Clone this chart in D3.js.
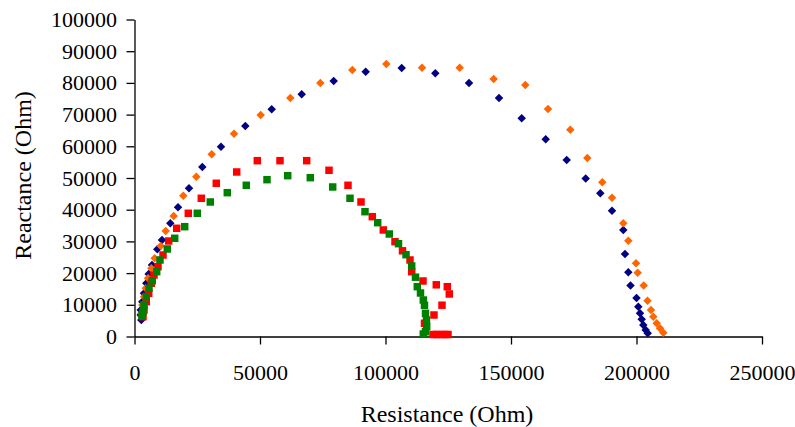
<!DOCTYPE html>
<html>
<head>
<meta charset="utf-8">
<script src="https://cdn.jsdelivr.net/npm/d3@7"></script>
<style>
	body { margin: 0; background: #fff; }
	text { font-family: "Liberation Serif", "Times New Roman", serif; fill: #000; }
</style>
</head>
<body>
<div id="chart"></div>
<script>
// Nyquist plot, four samples
// each series: resistance (x), reactance (y)
var navyX = [2709, 2470, 2470, 3108, 3785, 4701, 5657, 6972, 9084, 10956, 14263, 17330, 21713, 27011, 34462, 44143, 54661, 66613, 79361, 92110, 106452, 119839, 133265, 145217, 154261, 163822, 172189, 179759, 185575, 190237, 194739, 195416, 196731, 197607, 199997, 200715, 201392, 202069, 202706, 203662, 204459];
var navyY = [5206, 6783, 8361, 10979, 13630, 16784, 19719, 22558, 27512, 30446, 35715, 40763, 46757, 53477, 59882, 66413, 71682, 76414, 80610, 83544, 84712, 83040, 79979, 75247, 68842, 62216, 55686, 49849, 45180, 39689, 33601, 26029, 20255, 16090, 12147, 9402, 7320, 5427, 3628, 2051, 1010];

var orangeX = [2709, 3108, 3785, 4462, 5378, 6693, 8048, 10438, 12430, 15617, 19442, 24621, 30756, 39641, 50279, 62071, 74023, 86772, 100317, 114540, 129560, 143105, 155695, 164738, 173623, 180395, 186371, 190236, 194739, 196730, 199798, 200475, 202866, 204379, 205776, 206692, 208047, 209362, 210677];
var orangeY = [7320, 9938, 12557, 15207, 18362, 21517, 24672, 28553, 33285, 38018, 44421, 50417, 57483, 63983, 69883, 75247, 79979, 84080, 85973, 84807, 84807, 81241, 79348, 71776, 65245, 56318, 48650, 43791, 35714, 30224, 23095, 20129, 16090, 11295, 8361, 6247, 4165, 2587, 1199];

var redX = [3386, 3785, 4701, 5657, 6693, 7769, 9362, 11354, 13625, 16812, 21434, 26613, 32589, 40717, 48924, 57967, 68604, 77489, 85058, 90238, 94740, 99122, 103784, 106772, 109760, 110437, 114938, 120237, 124620, 125416, 122508, 119321, 115536, 118922, 120516, 122109, 123703, 124898];
var redY = [6247, 8361, 10979, 13630, 16784, 19403, 22022, 25713, 30130, 34137, 38869, 43601, 48334, 51899, 55464, 55464, 55464, 52435, 47704, 42435, 37796, 33601, 29909, 27038, 24136, 20444, 17510, 16311, 15712, 13409, 9875, 6783, 4165, 631, 631, 631, 631, 631];

var greenX = [2988, 3386, 3785, 4701, 5777, 7091, 8845, 10159, 13068, 16016, 20000, 25020, 30199, 36971, 44541, 52788, 61035, 70039, 78963, 85855, 91831, 96891, 101512, 105178, 108166, 110437, 111951, 112668, 113943, 115058, 115536, 115935, 116333, 116413, 115935, 115058];
var greenY = [6468, 7824, 9938, 12557, 15207, 17605, 20444, 24136, 27606, 30982, 34642, 38869, 42435, 45369, 47704, 49471, 50733, 50102, 47167, 43601, 39373, 35903, 32339, 29278, 25808, 22243, 18709, 15712, 13724, 11516, 9844, 7320, 5206, 3092, 1514, 789];

var xTicks = [0, 50000, 100000, 150000, 200000, 250000];
var yTicks = [0, 10000, 20000, 30000, 40000, 50000, 60000, 70000, 80000, 90000, 100000];

var width = 795, height = 427;
var margin = { left: 134.5, right: 33, top: 19.5, bottom: 90.5 };

var svg = d3.select("#chart").append("svg")
	.attr("width", width)
	.attr("height", height);

var x = d3.scaleLinear().domain([0, 250000]).range([margin.left, width - margin.right]);
var y = d3.scaleLinear().domain([0, 100000]).range([height - margin.bottom, margin.top]);

// Axes
svg.append("g")
	.attr("transform", "translate(0," + y(0) + ")")
	.call(d3.axisBottom(x).tickValues(xTicks).tickFormat(d3.format("d")).tickSizeInner(8).tickSizeOuter(0).tickPadding(20));

svg.append("g")
	.attr("transform", "translate(" + x(0) + ",0)")
	.call(d3.axisLeft(y).tickValues(yTicks).tickFormat(d3.format("d")).tickSizeInner(8).tickSizeOuter(0).tickPadding(9.5));

svg.selectAll(".domain, .tick line").attr("stroke", "#000").attr("stroke-width", 1.3);
svg.selectAll(".tick text")
	.style("font-family", "Liberation Serif, serif")
	.style("font-size", "22px")
	.attr("fill", "#000");

// Axis titles
svg.append("text")
	.attr("x", 447)
	.attr("y", 421.5)
	.attr("text-anchor", "middle")
	.style("font-size", "24px")
	.text("Resistance (Ohm)");

svg.append("text")
	.attr("transform", "translate(31,175.5) rotate(-90)")
	.attr("text-anchor", "middle")
	.style("font-size", "24px")
	.text("Reactance (Ohm)");

// Series
function zip(xs, ys) {
	return xs.map(function(v, i) { return [v, ys[i]]; });
}

var diamond = d3.symbol().type(d3.symbolDiamond2).size(46);
var square = d3.symbol().type(d3.symbolSquare).size(56);

function drawSeries(data, shape, color) {
	svg.append("g").selectAll("path")
		.data(data)
		.enter().append("path")
		.attr("d", shape)
		.attr("transform", function(d) { return "translate(" + x(d[0]) + "," + y(d[1]) + ")"; })
		.attr("fill", color);
}

drawSeries(zip(navyX, navyY), diamond, "#000080");
drawSeries(zip(orangeX, orangeY), diamond, "#FF6600");
drawSeries(zip(redX, redY), square, "#FF0000");
drawSeries(zip(greenX, greenY), square, "#008000");
</script>
</body>
</html>
